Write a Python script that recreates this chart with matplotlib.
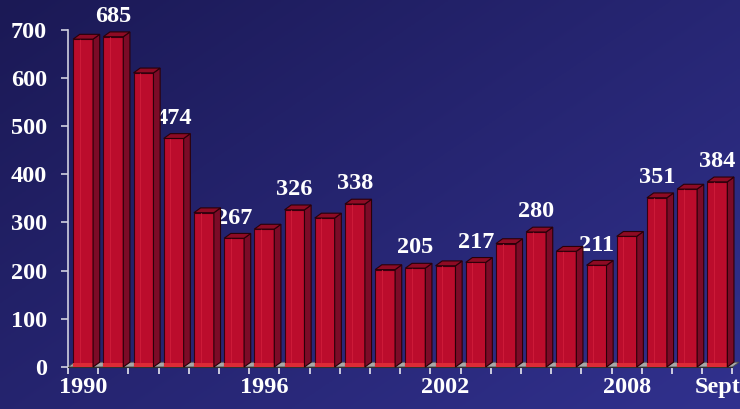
import numpy as np
import matplotlib.pyplot as plt
from matplotlib.patches import Polygon

years = list(range(1990, 2012))
counts = [680, 685, 610, 474, 320, 267, 286, 326, 309, 338, 202,
          205, 210, 217, 256, 280, 240, 211, 271, 351, 369, 384]
label_years = [1991, 1993, 1995, 1997, 1999, 2001, 2003, 2005, 2007, 2009, 2011]
tick_years = [1990, 1996, 2002, 2008, 2011]
tick_names = ["1990", "1996", "2002", "2008", "Sept"]

font = {"family": ["Liberation Serif", "DejaVu Serif"], "weight": "bold", "size": 17.5}

fig = plt.figure(figsize=(7.4, 4.09), dpi=100)

# gradient background
bg = fig.add_axes([0, 0, 1, 1])
gx, gy = np.meshgrid(np.linspace(0, 1, 200), np.linspace(0, 1, 200))
g = (gx * 0.55 + gy * 0.45)
c0 = np.array([0x1b, 0x19, 0x55]) / 255
c1 = np.array([0x31, 0x31, 0x8e]) / 255
img = c0 + (c1 - c0) * g[..., None]
bg.imshow(img, aspect="auto", extent=[0, 1, 0, 1], origin="upper")
bg.axis("off")

ax = fig.add_axes([68 / 740, 42 / 409, 672 / 740, 337.5 / 409])
ax.set_facecolor("none")

x = np.arange(len(years))
w = 0.66
dx, dy = 0.22, 10

# floor
ax.add_patch(Polygon([(-0.5, 0), (-0.5 + dx, dy), (len(x) - 0.5 + dx, dy), (len(x) - 0.5, 0)],
                     closed=True, facecolor="#a8a8a8", edgecolor="#505050", lw=0.6, zorder=1))

ax.bar(x, counts, width=w, color="#bb0c2c", edgecolor="#3a0010", linewidth=0.8, zorder=3)
ax.bar(x, [dy * 0.9] * len(x), width=w, color="#dc2a36", edgecolor="none", zorder=3.5)
for xi, v in zip(x, counts):
    r = xi + w / 2
    l = xi - w / 2
    ax.add_patch(Polygon([(r, 0), (r + dx, dy), (r + dx, v + dy), (r, v)], closed=True,
                         facecolor="#7c0b27", edgecolor="#2a0008", lw=0.8, zorder=4, clip_on=False))
    ax.add_patch(Polygon([(l, v), (l + dx, v + dy), (r + dx, v + dy), (r, v)], closed=True,
                         facecolor="#8e0b24", edgecolor="#2a0008", lw=0.8, zorder=4, clip_on=False))
    ax.plot([xi - w / 6, xi - w / 6], [dy, v], color="#cc1a38", lw=0.8, zorder=3.6)

for yr in label_years:
    i = years.index(yr)
    ax.annotate(str(counts[i]), (x[i], counts[i]), xytext=(0, 7), textcoords="offset points",
                ha="center", va="bottom", color="white", annotation_clip=False, **font)

ax.set_xlim(-0.5, len(x) - 0.25)
ax.set_ylim(0, 700)
ax.set_yticks(range(0, 701, 100))
ax.set_yticklabels([str(t) for t in range(0, 701, 100)], fontdict=font, color="white")
ax.tick_params(axis="y", colors="#d0d0e0", length=5, width=1.2, pad=10, labelcolor="white")

ax.set_xticks([years.index(t) for t in tick_years])
ax.set_xticklabels(tick_names, fontdict=font, color="white")
ax.set_xticks(np.arange(len(x) + 1) - 0.5, minor=True)
ax.tick_params(axis="x", which="major", length=0, pad=7)
ax.tick_params(axis="x", which="minor", length=5, width=1.2, colors="#e8e8f0")

for s in ["top", "right"]:
    ax.spines[s].set_visible(False)
ax.spines["left"].set_color("#d0d0e0")
ax.spines["left"].set_linewidth(1.2)
ax.spines["bottom"].set_color("#303030")
ax.spines["bottom"].set_bounds(-0.5, len(x) - 0.5)

fig.savefig("out.png", dpi=100)
